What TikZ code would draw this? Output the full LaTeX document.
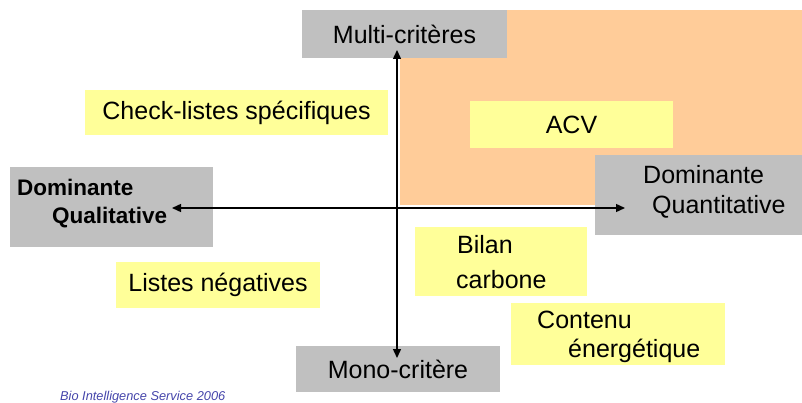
\documentclass[tikz,border=0pt]{standalone}
\usepackage{fontspec}
\setmainfont{Liberation Sans}
\usetikzlibrary{arrows.meta}
\definecolor{boxgrey}{HTML}{C0C0C0}
\definecolor{boxyellow}{HTML}{FFFF99}
\definecolor{zoneorange}{HTML}{FFCC99}
\definecolor{footblue}{HTML}{4444AA}
\begin{document}
\begin{tikzpicture}[x=1pt,y=-1pt,
        grey box/.style={rectangle,fill=boxgrey,inner sep=0pt},
        yellow box/.style={rectangle,fill=boxyellow,inner sep=0pt},
        big text/.style={font=\fontsize{25}{30}\selectfont},
        bold text/.style={font=\fontsize{22.5}{27}\selectfont\bfseries},
        line text/.style={big text,inner sep=0pt,anchor=base west},
        axis/.style={line width=1.4pt,{Triangle[length=9pt,width=8pt]}-{Triangle[length=9pt,width=8pt]}}]

    \useasboundingbox (0,0) rectangle (802,403);
    \fill[zoneorange] (400,10) rectangle (802,205);

    % grey poles
    \node[grey box,minimum width=205pt,minimum height=48pt,big text] (multi) at (404.5,34) {Multi-critères};
    \node[grey box,minimum width=204pt,minimum height=46pt,big text] (mono) at (398,369) {Mono-critère};
    \node[grey box,minimum width=203pt,minimum height=80pt] (qual) at (111.5,207) {};
    \node[grey box,minimum width=207pt,minimum height=80pt] (quant) at (698.5,195) {};

    \node[bold text,inner sep=0pt,anchor=base west] (qual1) at (17,196) {Dominante};
    \node[bold text,inner sep=0pt,anchor=base west] (qual2) at (52,223) {Qualitative};
    \node[line text] (quant1) at (643,184) {Dominante};
    \node[line text] (quant2) at (652,214) {Quantitative};

    % yellow tools
    \node[yellow box,minimum width=303pt,minimum height=45pt,big text] (check) at (236.5,112.5) {Check-listes spécifiques};
    \node[yellow box,minimum width=203pt,minimum height=47pt,big text] (acv) at (571.5,124.5) {ACV};
    \node[yellow box,minimum width=204pt,minimum height=46pt,big text] (listes) at (218,285) {Listes négatives};
    \node[yellow box,minimum width=172pt,minimum height=69pt] (bilan) at (501,261.5) {};
    \node[yellow box,minimum width=214pt,minimum height=62pt] (contenu) at (618,334) {};

    \node[line text] (bilan1) at (457,253) {Bilan};
    \node[line text] (bilan2) at (456,288) {carbone};
    \node[line text] (contenu1) at (537,328) {Contenu};
    \node[line text] (contenu2) at (568,357) {énergétique};

    \node[font=\fontsize{12.8}{15}\selectfont\itshape,text=footblue,inner sep=0pt,anchor=base west] (source) at (60,400) {Bio Intelligence Service 2006};

    % axes
    \coordinate (top) at (397,50);
    \coordinate (bottom) at (397,358);
    \coordinate (left) at (172,208);
    \coordinate (right) at (625,208);
    \draw[axis] (top) -- (bottom);
    \draw[axis] (left) -- (right);
\end{tikzpicture}
\end{document}
